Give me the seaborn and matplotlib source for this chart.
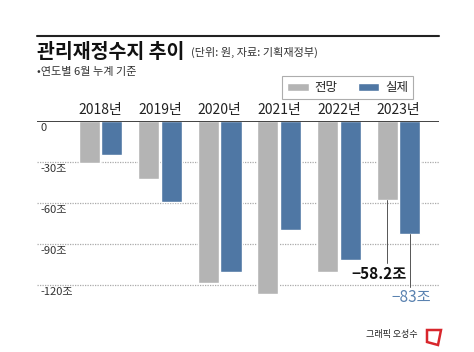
import pandas as pd
import seaborn as sns
import matplotlib.pyplot as plt
from matplotlib.lines import Line2D
from matplotlib.patches import Polygon

# data (unit: trillion won)
years = ['2018년', '2019년', '2020년', '2021년', '2022년', '2023년']
forecast = [-31.0, -42.3, -118.6, -126.6, -110.8, -58.2]
actual = [-25.3, -59.5, -110.5, -80.0, -101.9, -83.0]
series_names = ['전망', '실제']
yticks = [0, -30, -60, -90, -120]
ytick_labels = ['0', '-30조', '-60조', '-90조', '-120조']

df = pd.DataFrame({
    'year': years * 2,
    'value': forecast + actual,
    'kind': [series_names[0]] * len(years) + [series_names[1]] * len(years),
})

sns.set_style('white')
plt.rcParams['font.family'] = ['Noto Sans CJK KR', 'DejaVu Sans']

W, H = 474, 352
fig = plt.figure(figsize=(4.74, 3.52), dpi=100)
ax = fig.add_axes([37 / W, 1 - 305.2 / H, 402 / W, 184.5 / H])

gray = '#b4b4b4'
blue = '#4f77a4'
sns.barplot(data=df, x='year', y='value', hue='kind', palette=[gray, blue],
            width=0.76, gap=0.07, saturation=1, ax=ax)

ax.set_xlim(-1.065, 5.68)
ax.set_ylim(-135, 0)
for s in ax.spines.values():
    s.set_visible(False)
ax.set_xlabel('')
ax.set_ylabel('')
ax.set_yticks([])
ax.xaxis.tick_top()
ax.tick_params(axis='x', length=0, pad=3, labelsize=10, labelcolor='#222222')

# grid lines and y labels drawn under each line
for v, lab in zip(yticks, ytick_labels):
    if v == 0:
        ax.axhline(0, color='#333333', lw=1.3, zorder=3)
    else:
        ax.axhline(v, color='#aaaaaa', lw=0.9, ls=(0, (1, 1)), zorder=0)
    ax.text(0.008, v - 1.8, lab, transform=ax.get_yaxis_transform(),
            ha='left', va='top', fontsize=8, color='#333333')

# callouts for 2023
x_g = 5 - 0.19
x_b = 5 + 0.19
ax.plot([x_g, x_g], [forecast[5], -104], color='#555555', lw=0.7)
ax.plot([x_b, x_b], [actual[5], -122], color='#555555', lw=0.7)
ax.text(x_g + 0.32, -112, '−58.2조', ha='right', va='center',
        fontsize=11, fontweight='bold', color='#111111')
ax.text(x_b + 0.35, -129, '−83조', ha='right', va='center',
        fontsize=11, color='#5a82b0')

# legend
leg = ax.legend(loc='upper left', bbox_to_anchor=(276 / W, 1 - 70 / H),
                bbox_transform=fig.transFigure, ncol=2, frameon=True,
                fancybox=False, edgecolor='#999999', fontsize=9,
                handlelength=1.7, handleheight=0.55, columnspacing=1.6,
                borderpad=0.4, handletextpad=0.5)
leg.get_frame().set_linewidth(0.8)

# header
fig.add_artist(Line2D([37 / W, 439 / W], [1 - 36 / H] * 2, color='#222222', lw=1.5))
fig.text(37 / W, 1 - 52 / H, '관리재정수지 추이', fontsize=14, fontweight='bold',
         va='center', ha='left', color='#111111')
fig.text(191 / W, 1 - 52 / H, '(단위: 원, 자료: 기획재정부)', fontsize=8,
         va='center', ha='left', color='#333333')
fig.text(37 / W, 1 - 72 / H, '•연도별 6월 누계 기준', fontsize=8,
         va='center', ha='left', color='#333333')

# footer
fig.text(418 / W, 1 - 335 / H, '그래픽 오성수', fontsize=6.5, va='center',
         ha='right', color='#222222')
fig.add_artist(Polygon([(427 / W, 1 - 330 / H), (441 / W, 1 - 330 / H),
                        (438 / W, 1 - 345 / H), (427 / W, 1 - 342 / H)],
                       closed=True, fill=False, edgecolor='#d8262c', lw=1.8,
                       transform=fig.transFigure))

fig.savefig('out.png', dpi=100, facecolor='white')
